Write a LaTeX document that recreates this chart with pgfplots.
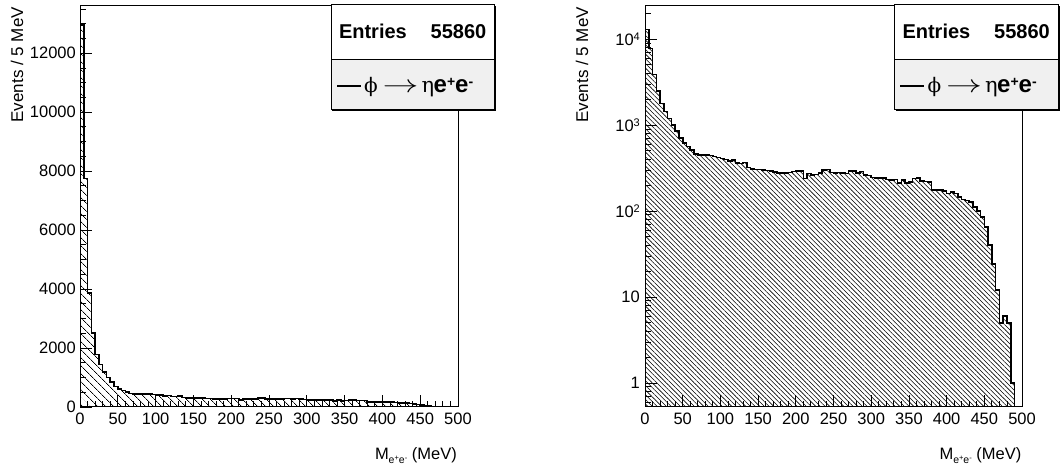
\documentclass[border=0pt]{standalone}
\usepackage{fontspec}
\setmainfont{Liberation Sans}
\newfontfamily\greekfont{DejaVu Serif}
\usepackage{graphicx}
\usepackage{pgfplots}
\pgfplotsset{compat=1.18}
\usepackage{pgfplotstable}
\usetikzlibrary{patterns.meta}

% e+e- invariant mass, 5 MeV bins (left edge, entries); closed at the base
\pgfplotstableread{
x y
0 0.3
0 12950
5 7750
10 3870
15 2500
20 1780
25 1440
30 1190
35 1000
40 850
45 700
50 620
55 560
60 510
65 458
70 450
75 448
80 445
85 440
90 432
95 420
100 408
105 398
110 380
115 391
120 360
125 355
130 365
135 320
140 310
145 305
150 303
155 300
160 296
165 290
170 282
175 278
180 276
185 278
190 280
195 288
200 290
205 292
210 239
215 273
220 261
225 265
230 278
235 300
240 305
245 280
250 278
255 280
260 278
265 272
270 290
275 292
280 275
285 288
290 262
295 258
300 245
305 240
310 243
315 240
320 233
325 228
330 232
335 210
340 228
345 212
350 218
355 238
360 240
365 222
370 220
375 218
380 176
385 175
390 174
395 170
400 160
405 165
410 160
415 146
420 136
425 132
430 128
435 112
440 100
445 85
450 65
455 40
460 24
465 12
470 5
475 6
480 5
485 1
490 1
490 0.3
}\meetable

\newcommand{\ee}{e\raisebox{3.2bp}{\fontsize{7.5bp}{8bp}\selectfont +}e\raisebox{3.2bp}{\fontsize{7.5bp}{8bp}\selectfont -}}
\newcommand{\xlab}{M\raisebox{-3.5bp}{\fontsize{10.5bp}{11bp}\selectfont\ee}\ (MeV)}
\newcommand{\decade}[1]{10\raisebox{5bp}{\fontsize{11bp}{12bp}\selectfont #1}}

\pgfplotsset{
  roothist/.style={
    scale only axis, anchor=south west,
    axis on top, tick align=inside, tick pos=left,
    xmin=0, xmax=500, xtick={0,50,...,500}, minor x tick num=4,
    scaled x ticks=false, scaled y ticks=false,
    major tick length=12bp, minor tick length=6bp,
    every tick/.style={black, line width=0.8bp},
    axis line style={line width=1bp},
    tick label style={font=\fontsize{16.5bp}{18bp}\selectfont},
    xticklabel style={inner sep=0pt, yshift=-6bp},
    yticklabel style={inner sep=0pt, xshift=-4bp},
    /pgf/number format/assume math mode=true,
    /pgf/number format/1000 sep={},
  },
}

\begin{document}
\begin{tikzpicture}[x=1bp,y=1bp]
\useasboundingbox (0,0) rectangle (1060,468);

% ---- linear scale ----
\begin{axis}[roothist, at={(80bp,61bp)}, width=378bp, height=401bp,
  ymin=0, ymax=13600, ytick={0,2000,...,12000},
  minor ytick={500,1000,...,13500}]
  \addplot[const plot, draw=black, line width=1.6bp,
    pattern={Lines[angle=-45,distance=6bp,line width=0.7bp]}]
    table {\meetable};
\end{axis}

% ---- log scale ----
\begin{axis}[roothist, at={(645bp,61bp)}, width=377bp, height=401bp,
  ymode=log, ymin=0.525, ymax=24200,
  ytick={1,10,100,1000,10000},
  yticklabels={1,10,\decade{2},\decade{3},\decade{4}},
  yticklabel style={xshift=-1bp},
  minor ytick={0.6,0.7,0.8,0.9,2,3,4,5,6,7,8,9,20,30,40,50,60,70,80,90,
    200,300,400,500,600,700,800,900,2000,3000,4000,5000,6000,7000,8000,9000,20000}]
  \addplot[const plot, draw=black, line width=1.6bp,
    pattern={Lines[angle=-45,distance=3.3bp,line width=0.6bp]}]
    table {\meetable};
\end{axis}

% axis titles
\foreach \ox in {0,565}{
  \node[rotate=90, anchor=base east, inner sep=0pt, font=\fontsize{17bp}{19bp}\selectfont]
    at (23+\ox,461) {Events / 5 MeV};
}
\node[anchor=base east, inner sep=0pt, font=\fontsize{16.5bp}{18bp}\selectfont] at (457,8) {\xlab};
\node[anchor=base east, inner sep=0pt, font=\fontsize{16.5bp}{18bp}\selectfont] at (1021.5,8) {\xlab};

% statistics / legend boxes
\foreach \bx in {331,894.5}{
  \fill[black] (\bx+1.3,357.2) rectangle (\bx+165,461.7);
  \fill[white] (\bx,463) rectangle (\bx+163.7,408.7);
  \fill[fill={rgb,255:red,240;green,240;blue,240}] (\bx,408.7) rectangle (\bx+163.7,358.3);
  \draw[line width=1bp] (\bx,463) rectangle (\bx+163.7,358.3);
  \draw[line width=1bp] (\bx,408.7) -- (\bx+163.7,408.7);
  \node[anchor=base west, inner sep=0pt, font=\fontsize{20bp}{22bp}\selectfont\bfseries]
    at (\bx+7.8,429.7) {Entries};
  \node[anchor=base east, inner sep=0pt, font=\fontsize{20bp}{22bp}\selectfont\bfseries]
    at (\bx+155.5,429.7) {55860};
  \fill[black] (\bx+5.7,381.3) rectangle (\bx+29.7,382.7);
  \node[anchor=base west, inner sep=0pt, font=\greekfont\fontsize{20bp}{22bp}\selectfont]
    at (\bx+33,375.3) {ϕ};
  \node[anchor=base west, inner sep=0pt, font=\fontsize{24bp}{26bp}\selectfont]
    at (\bx+51.5,375.3) {\scalebox{1.45}[1]{$\rightarrow$}};
  \node[anchor=base west, inner sep=0pt, font=\greekfont\fontsize{21bp}{23bp}\selectfont]
    at (\bx+90.5,375.3) {η};
  \node[anchor=base west, inner sep=0pt, font=\fontsize{24bp}{26bp}\selectfont\bfseries]
    at (\bx+102.5,375.3) {e\raisebox{6.5bp}{\fontsize{14bp}{15bp}\selectfont +}e\raisebox{6.5bp}{\fontsize{14bp}{15bp}\selectfont -}};
}
\end{tikzpicture}
\end{document}
